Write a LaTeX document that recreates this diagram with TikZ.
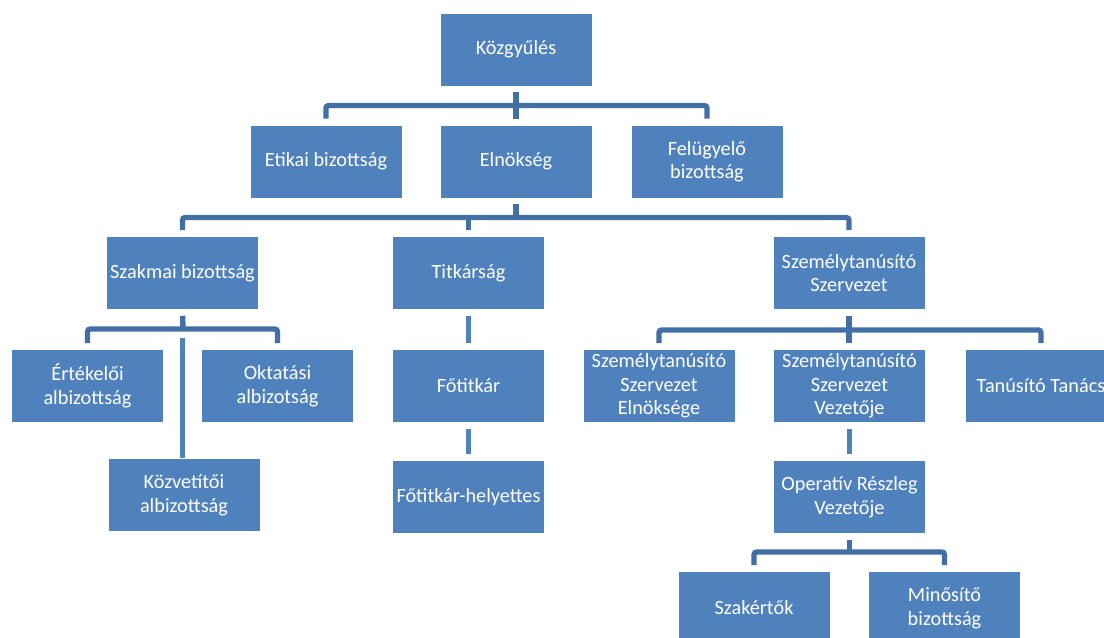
\documentclass[tikz,border=0pt]{standalone}
\usepackage{fontspec}
\setmainfont{Carlito}
\usepackage{tikz}
\definecolor{boxblue}{RGB}{79,129,189}
\definecolor{linkblue}{RGB}{66,111,164}
\tikzset{
  orgbox/.style={rectangle,fill=boxblue,draw=white,line width=0.4pt,inner sep=0pt,
    minimum width=114pt,minimum height=54.75pt,align=center,text=white,
    font=\fontsize{15.2}{17.7}\selectfont},
  link/.style={draw=linkblue,line width=4pt,rounded corners=2pt,shorten <=4.5pt,shorten >=4.5pt},
  stem/.style={draw=boxblue,line width=4pt,shorten <=4.5pt,shorten >=4.5pt},
  longstem/.style={draw=white,double=boxblue,double distance=4pt,line width=0.8pt,shorten <=21pt}
}
\newcommand{\orgnode}[4]{\node[orgbox] (#1) at (#2,#3) {#4};}

\begin{document}
\begin{tikzpicture}[x=0.75pt,y=-0.75pt]
        \useasboundingbox (0,0) rectangle (1104,637);
        %nodes
        \orgnode{kozgy}{516}{49.5}{Közgyűlés}
        \orgnode{etikai}{326}{161.5}{Etikai bizottság}
        \orgnode{elnok}{516}{161.5}{Elnökség}
        \orgnode{felug}{707}{161.5}{Felügyelő\\bizottság}
        \orgnode{szakm}{182.5}{273}{Szakmai bizottság}
        \orgnode{titk}{468.5}{273}{Titkárság}
        \orgnode{szemely}{849}{273}{Személytanúsító\\Szervezet}
        \orgnode{ertek}{87.5}{386}{Értékelői\\albizottság}
        \orgnode{oktat}{277.5}{386}{Oktatási\\albizotság}
        \orgnode{fotit}{468.5}{386}{Főtitkár}
        \orgnode{szelnok}{659}{386}{Személytanúsító\\Szervezet\\Elnöksége}
        \orgnode{szvez}{849.5}{386}{Személytanúsító\\Szervezet\\Vezetője}
        \orgnode{tanacs}{1041}{386}{Tanúsító Tanács}
        \orgnode{kozvet}{184}{495}{Közvetítői\\albizottság}
        \orgnode{helyet}{468.5}{497}{Főtitkár-helyettes}
        \orgnode{operativ}{849.5}{497}{Operatív Részleg\\Vezetője}
        \orgnode{szakert}{754}{608}{Szakértők}
        \orgnode{minosit}{944.5}{608}{Minősítő\\bizottság}
        \coordinate (b1) at (516,105.5);
        \coordinate (b2) at (516,217.5);
        \coordinate (b3) at (183,329);
        \coordinate (b4) at (849,330);
        \coordinate (b5) at (849,552);
        %edges
        \draw[link] (etikai.north) |- (b1) -| (felug.north);
        \draw[link] (kozgy.south) -- (elnok.north);
        \draw[link,shorten >=0pt] (elnok.south) -- (b2);
        \draw[link] (szakm.north) |- (b2) -| (szemely.north);
        \draw[link,shorten <=0pt] (b2 -| titk.north) -- (titk.north);
        \draw[link] (ertek.north) |- (b3) -| (oktat.north);
        \draw[link,shorten >=0pt] (szakm.south) -- (b3);
        \draw[longstem] (szakm.south) -- (szakm.south |- kozvet.north);
        \draw[stem] (titk.south) -- (fotit.north);
        \draw[stem] (fotit.south) -- (helyet.north);
        \draw[link] (szelnok.north) |- (b4) -| (tanacs.north);
        \draw[link] (szemely.south) -- (szemely.south |- szvez.north);
        \draw[stem] (szvez.south) -- (operativ.north);
        \draw[link] (szakert.north) |- (b5) -| (minosit.north);
        \draw[link,shorten >=0pt] (operativ.south) -- (operativ.south |- b5);
\end{tikzpicture}
\end{document}
